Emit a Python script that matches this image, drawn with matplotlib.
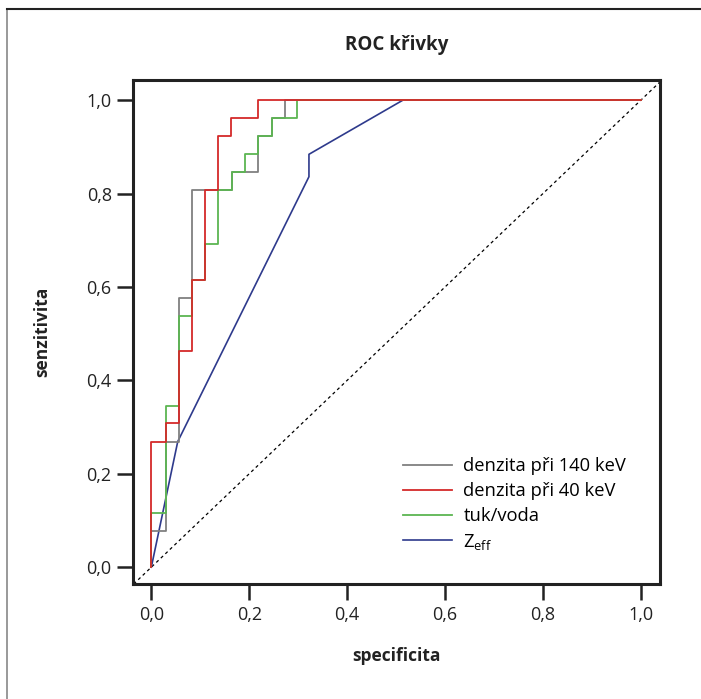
import numpy as np
import matplotlib
matplotlib.use("Agg")
import matplotlib.pyplot as plt
from matplotlib.lines import Line2D

plt.rcParams['font.family'] = ['Open Sans', 'DejaVu Sans']

# ROC curves (x = 1 - specificity style axis labelled "specificita")
x_140 = [0.0, 0.0, 0.031, 0.031, 0.057, 0.057, 0.083, 0.083, 0.165, 0.165, 0.218, 0.218, 0.246, 0.246, 0.273, 0.273, 1.0]
y_140 = [0.0, 0.077, 0.077, 0.269, 0.269, 0.577, 0.577, 0.808, 0.808, 0.846, 0.846, 0.923, 0.923, 0.962, 0.962, 1.0, 1.0]

x_40 = [0.0, 0.0, 0.029, 0.029, 0.057, 0.057, 0.083, 0.083, 0.109, 0.109, 0.136, 0.136, 0.163, 0.163, 0.218, 0.218, 1.0]
y_40 = [0.0, 0.269, 0.269, 0.308, 0.308, 0.462, 0.462, 0.615, 0.615, 0.808, 0.808, 0.923, 0.923, 0.962, 0.962, 1.0, 1.0]

x_tuk = [0.0, 0.0, 0.031, 0.031, 0.057, 0.057, 0.083, 0.083, 0.109, 0.109, 0.136, 0.136, 0.165, 0.165, 0.192, 0.192,
         0.218, 0.218, 0.246, 0.246, 0.297, 0.297, 1.0]
y_tuk = [0.0, 0.115, 0.115, 0.346, 0.346, 0.538, 0.538, 0.615, 0.615, 0.692, 0.692, 0.808, 0.808, 0.846, 0.846, 0.885,
         0.885, 0.923, 0.923, 0.962, 0.962, 1.0, 1.0]

x_zeff = [0.0, 0.054, 0.322, 0.322, 0.514, 1.0]
y_zeff = [0.0, 0.269, 0.836, 0.884, 1.0, 1.0]

ticks = [0.0, 0.2, 0.4, 0.6, 0.8, 1.0]
tick_labels = ["0,0", "0,2", "0,4", "0,6", "0,8", "1,0"]

fig = plt.figure(figsize=(7.01, 6.99), dpi=100)
ax = fig.add_axes([0.19, 0.1645, 0.7515, 0.721])

ax.axline((0, 0), (1, 1), color='black', lw=0.9, linestyle=(0, (2.5, 2.5)), zorder=1)
ax.plot(x_zeff, y_zeff, color='#2e3a8c', lw=1.2, label=r'Z$_{\mathregular{eff}}$', zorder=2)
ax.plot(x_tuk, y_tuk, color='#5cb552', lw=1.3, label='tuk/voda', zorder=3)
ax.plot(x_40, y_40, color='#d42a2a', lw=1.3, label='denzita při 40 keV', zorder=3)
ax.plot(x_140, y_140, color='#808080', lw=1.3, label='denzita při 140 keV', zorder=2)

ax.set_xlim(-0.037, 1.039)
ax.set_ylim(-0.036, 1.043)
ax.set_xticks(ticks)
ax.set_xticklabels(tick_labels)
ax.set_yticks(ticks)
ax.set_yticklabels(tick_labels)
ax.tick_params(direction='out', length=11.5, width=1.8, color='#222222', labelsize=13, pad=4, labelcolor='#222222')
for s in ax.spines.values():
    s.set_linewidth(2.2)
    s.set_color('#222222')

ax.set_xlabel('specificita', fontsize=12.5, fontweight='bold', color='#222222')
ax.set_ylabel('senzitivita', fontsize=12.5, fontweight='bold', color='#222222')
ax.xaxis.set_label_coords(0.5, -0.124)
ax.yaxis.set_label_coords(-0.155, 0.5)

fig.text(0.566, 0.936, 'ROC křivky', ha='center', va='center', fontsize=13.5, fontweight='bold', color='#222222')

handles, labels = ax.get_legend_handles_labels()
order = [3, 2, 1, 0]
ax.legend([handles[i] for i in order], [labels[i] for i in order], loc='upper left',
          bbox_to_anchor=(0.512, 0.252), frameon=False, borderpad=0, borderaxespad=0,
          fontsize=13.2, handlelength=2.7, handletextpad=0.6, labelspacing=0.38)

# outer frame around the figure (left and top edges)
fig.add_artist(Line2D([0.01, 0.01], [0.0, 0.987], transform=fig.transFigure, color='#888888', lw=1.2))
fig.add_artist(Line2D([0.01, 1.0], [0.987, 0.987], transform=fig.transFigure, color='#222222', lw=1.5))

fig.savefig('out.png', dpi=100)
